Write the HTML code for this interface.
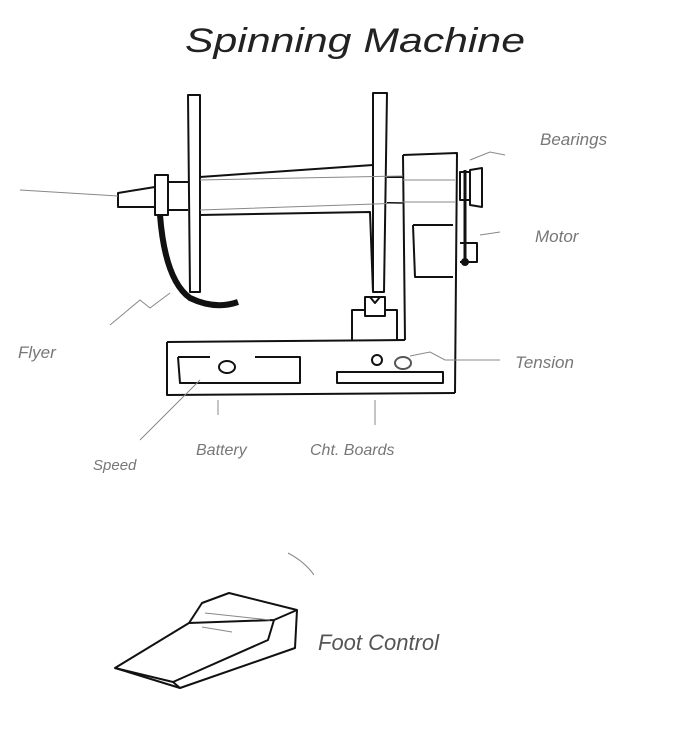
<!DOCTYPE html>
<html><head><meta charset="utf-8"><style>
html,body{margin:0;padding:0;background:#fff;overflow:hidden;}
svg{display:block;}
text{font-family:"Liberation Sans",sans-serif;}
</style></head><body>
<svg width="698" height="734" viewBox="0 0 698 734" xmlns="http://www.w3.org/2000/svg">
<rect width="698" height="734" fill="#fff"/>
<text x="185" y="52" font-size="34" font-style="italic" fill="#222" textLength="340" lengthAdjust="spacingAndGlyphs" font-family="Liberation Serif">Spinning Machine</text>
<g fill="none" stroke="#111" stroke-width="2" stroke-linejoin="round">
<path d="M188 95 L200 95 L200 292 L190 292 Z"/>
<path d="M373 93 L387 93 L384 292 L373 292 Z"/>
<path d="M200 177 L373 165"/>
<path d="M200 215 L370 212 L373 292"/>
<path d="M168 182 L188 182 M168 210 L188 210"/>
<path d="M387 177 L403 177 M387 203 L403 203"/>
<path d="M155 175 L168 175 L168 215 L155 215 Z"/>
<path d="M118 193 L155 187 L155 207 L118 207 Z"/>
<path d="M403 155 L457 153 L455 393 M403 155 L405 340"/>
<path d="M413 225 L453 225 M413 225 L415 277 L453 277"/>
<path d="M167 342 L405 340 M167 342 L167 395 L455 393"/>
<path d="M178 357 L210 357 M255 357 L300 357 L300 383 L180 383 L178 357"/>
<path d="M337 372 L443 372 L443 383 L337 383 Z"/>
<ellipse cx="227" cy="367" rx="8" ry="6"/>
<circle cx="377" cy="360" r="5"/>
<ellipse cx="403" cy="363" rx="8" ry="6" stroke="#555"/>
<path d="M352 340 L352 310 L365 310 M385 310 L397 310 L397 340"/>
<path d="M365 297 L385 297 L385 316 L365 316 Z M370 297 L375 303 L380 297"/>
<path d="M470 170 L482 168 L482 207 L470 205 Z"/>
<path d="M460 172 L470 172 L470 200 L460 200 Z"/>
<path d="M465 170 L465 262" stroke-width="3"/>
<path d="M460 243 L477 243 L477 262 L460 262"/>
<circle cx="465" cy="262" r="3" fill="#111"/>
<path d="M115 668 L189 623 L202 603 L229 593 L297 610 L295 648 L180 688 L115 668 Z"/>
<path d="M115 668 L173 682 L268 640 L274 620 L297 610 M189 623 L274 620 M173 682 L180 688"/>
</g>
<path d="M160 215 Q165 280 190 298 Q215 310 238 302" fill="none" stroke="#111" stroke-width="6"/>
<g fill="none" stroke="#888" stroke-width="1">
<path d="M20 190 L118 196"/>
<path d="M200 180 L403 176 M200 210 L403 203 M403 180 L455 180 M403 202 L455 202"/>
<path d="M110 325 L140 300 L150 308 L170 293"/>
<path d="M470 160 L490 152 L505 155"/>
<path d="M480 235 L500 232"/>
<path d="M410 356 L430 352 L445 360 L500 360"/>
<path d="M140 440 L200 380"/>
<path d="M218 400 L218 415 M375 400 L375 425"/>
<path d="M288 553 Q305 562 314 575"/>
<path d="M202 627 L232 632 M205 613 L270 620"/>
</g>
<g fill="#777" font-size="17" font-style="italic">
<text x="540" y="145">Bearings</text>
<text x="535" y="242">Motor</text>
<text x="18" y="358">Flyer</text>
<text x="515" y="368">Tension</text>
<text x="93" y="470" font-size="15">Speed</text>
<text x="196" y="455" font-size="16">Battery</text>
<text x="310" y="455" font-size="16">Cht. Boards</text>
<text x="318" y="650" font-size="22" fill="#555">Foot   Control</text>
</g>
</svg>
</body></html>
